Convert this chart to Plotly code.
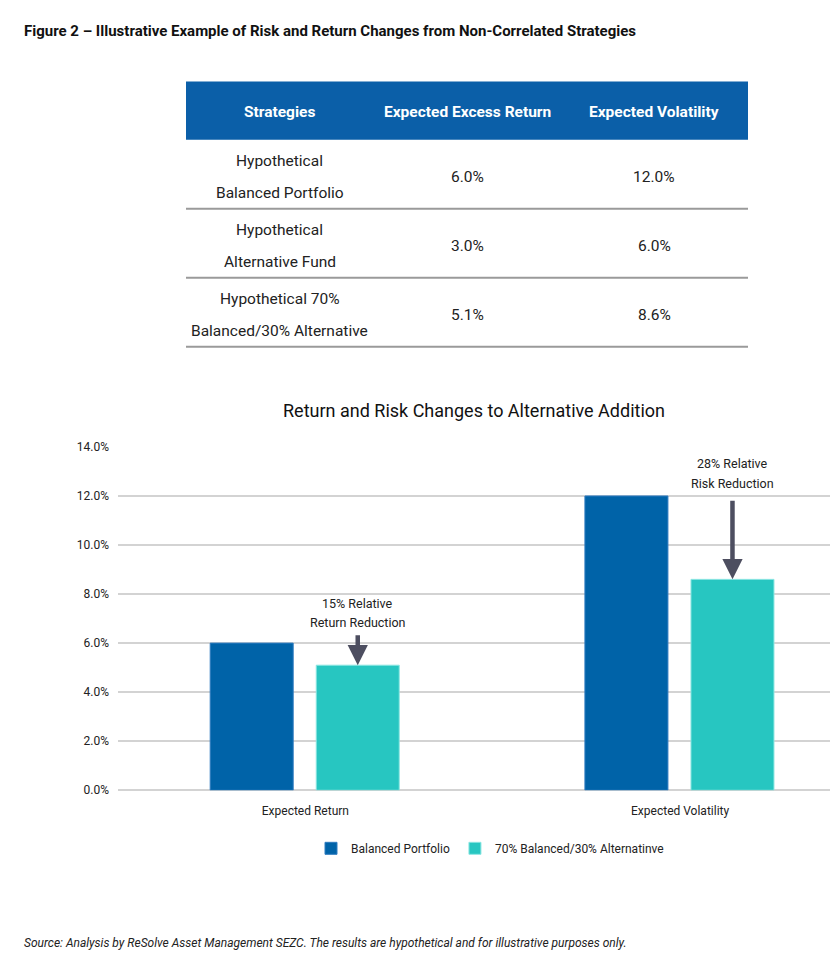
import plotly.graph_objects as go

W, H = 830, 970

# ---- data ----
table_header = ["Strategies", "Expected Excess Return", "Expected Volatility"]
strategies = ["Hypothetical<br>Balanced Portfolio", "Hypothetical<br>Alternative Fund",
              "Hypothetical 70%<br>Balanced/30% Alternative"]
excess_return = ["6.0%", "3.0%", "5.1%"]
volatility = ["12.0%", "6.0%", "8.6%"]

categories = ["Expected Return", "Expected Volatility"]
balanced = [6.0, 12.0]
mix = [5.1, 8.6]
y_ticks = [0, 2, 4, 6, 8, 10, 12, 14]

FONT = "Roboto, sans-serif"

# page is rendered with a small vertical offset/scale; compensate
SY, OY = 0.9846, 7.5

def px(x):
    return x / W

def py(y):
    return 1 - ((y - OY) / SY) / H

fig = go.Figure()

fig.add_trace(go.Bar(x=categories, y=balanced, name="Balanced Portfolio",
                     marker=dict(color="#0063a8", line=dict(color="#2f7cc0", width=1)),
                     width=0.2215, offset=-0.254))
fig.add_trace(go.Bar(x=categories, y=mix, name="70% Balanced/30% Alternatinve",
                     marker=dict(color="#27c6c1", line=dict(color="#8ce6e2", width=1)),
                     width=0.2215, offset=0.029))

shapes = []
annotations = []

# title
annotations.append(dict(text="<b>Figure 2 – Illustrative Example of Risk and Return Changes from Non-Correlated Strategies</b>",
                        x=px(22), y=py(31), xref="paper", yref="paper", xanchor="left", yanchor="middle",
                        showarrow=False, font=dict(family=FONT, size=15, color="#111")))

# table
tx0, tx1 = 186, 748
col_w = (tx1 - tx0) / 3
hy0, hy1 = 82, 140
row_h = 69
line_gap = 32
shapes.append(dict(type="rect", xref="paper", yref="paper", x0=px(tx0), x1=px(tx1), y0=py(hy1), y1=py(hy0),
                   fillcolor="#0b5fa8", line=dict(width=0), layer="below"))
for i, h in enumerate(table_header):
    annotations.append(dict(text=f"<b>{h}</b>", x=px(tx0 + col_w * (i + 0.5)), y=py(112),
                            xref="paper", yref="paper", showarrow=False, xanchor="center", yanchor="middle",
                            font=dict(family=FONT, size=15.5, color="white")))
rows = list(zip(strategies, excess_return, volatility))
for r, row in enumerate(rows):
    top = hy1 + r * row_h
    bottom = top + row_h
    mid = (top + bottom) / 2 + 3
    for c, val in enumerate(row):
        lines = val.split("<br>")
        n = len(lines)
        for k, ln in enumerate(lines):
            yy = mid + (k - (n - 1) / 2) * line_gap
            annotations.append(dict(text=ln, x=px(tx0 + col_w * (c + 0.5)), y=py(yy),
                                    xref="paper", yref="paper", showarrow=False,
                                    xanchor="center", yanchor="middle",
                                    font=dict(family=FONT, size=15.5, color="#222")))
    shapes.append(dict(type="line", xref="paper", yref="paper", x0=px(tx0), x1=px(tx1),
                       y0=py(bottom), y1=py(bottom), line=dict(color="#9a9a9a", width=2)))

# chart title
annotations.append(dict(text="Return and Risk Changes to Alternative Addition", x=px(474), y=py(411),
                        xref="paper", yref="paper", showarrow=False, xanchor="center", yanchor="middle",
                        font=dict(family=FONT, size=18, color="#111")))

# callouts
notes = [("15% Relative<br>Return Reduction", 0, mix[0], 603, -31),
         ("28% Relative<br>Risk Reduction", 1, mix[1], 464, -79)]
for text, ci, val, ty, ay in notes:
    xc = ci + 0.029 + 0.2215 / 2
    for k, ln in enumerate(text.split("<br>")):
        annotations.append(dict(text=ln, x=xc, y=py(ty + 19.5 * k), xref="x", yref="paper", showarrow=False,
                                xanchor="center", yanchor="middle",
                                font=dict(family=FONT, size=12.5, color="#222")))
    annotations.append(dict(text="", x=xc, y=val, xref="x", yref="y", showarrow=True,
                            ax=0, ay=ay / SY, arrowhead=2, arrowsize=0.9, arrowwidth=4.5, arrowcolor="#4d4e60"))

# source
annotations.append(dict(text="<i>Source: Analysis by ReSolve Asset Management SEZC. The results are hypothetical and for illustrative purposes only.</i>",
                        x=px(22), y=py(943), xref="paper", yref="paper", xanchor="left", yanchor="middle",
                        showarrow=False, font=dict(family=FONT, size=12, color="#222")))

fig.update_layout(
    width=W, height=H, margin=dict(l=0, r=0, t=0, b=0),
    paper_bgcolor="white", plot_bgcolor="white",
    font=dict(family=FONT, size=12, color="#222"),
    shapes=shapes, annotations=annotations,
    showlegend=True,
    legend=dict(orientation="h", x=px(490), y=py(848), xanchor="center", yanchor="middle",
                font=dict(family=FONT, size=12, color="#222"), itemwidth=30, traceorder="normal"),
    xaxis=dict(domain=[px(118), 1], range=[-0.5, 1.4], type="category", showgrid=False,
               showline=False, ticks="", ticklabelstandoff=12,
               tickfont=dict(family=FONT, size=12, color="#222")),
    yaxis=dict(domain=[py(790), py(447)], range=[0, 14], tickvals=y_ticks,
               ticktext=[f"{v:.1f}%" for v in y_ticks], showgrid=True, gridcolor="#d3d3d3",
               gridwidth=1.5, zeroline=True, zerolinecolor="#d3d3d3", zerolinewidth=1.5,
               showline=False, ticks="", ticklabelstandoff=8,
               tickfont=dict(family=FONT, size=12, color="#222")),
)

fig.write_html("out.html", config={"displayModeBar": False},
               post_script="document.body.style.margin='0';document.body.style.overflow='hidden';")
